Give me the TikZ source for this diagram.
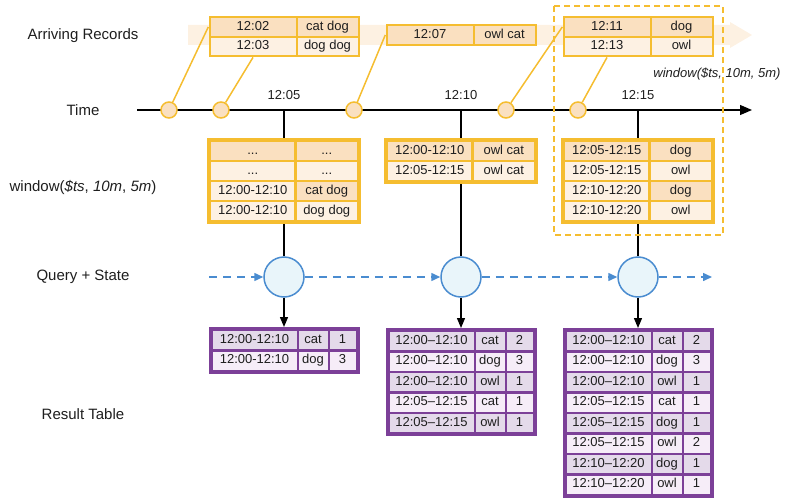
\documentclass[tikz,border=0pt]{standalone}
\usepackage{fontspec}
\setmainfont{Liberation Sans}
\usetikzlibrary{matrix,arrows.meta}
\definecolor{ob}{RGB}{245,189,48}
\definecolor{odk}{RGB}{250,224,192}
\definecolor{olt}{RGB}{253,241,227}
\definecolor{bandc}{RGB}{253,241,226}
\definecolor{pb}{RGB}{124,64,152}
\definecolor{pdk}{RGB}{228,218,234}
\definecolor{plt}{RGB}{246,237,248}
\definecolor{bb}{RGB}{74,140,208}
\definecolor{bf}{RGB}{233,245,250}
\definecolor{txt}{RGB}{30,30,30}
\tikzset{
 tfont/.style={font=\fontsize{13}{15}\selectfont, text=txt},
 lbl/.style={font=\fontsize{15}{18}\selectfont, text=txt},
 cellbase/.style={inner sep=0pt, anchor=center, text height=9.5pt, text depth=3pt, tfont},
 dk/.style={fill=odk}, lt/.style={fill=olt},
 pd/.style={fill=pdk}, pl/.style={fill=plt},
 arrtab/.style={matrix of nodes, fill=ob, inner sep=2pt, column sep=2pt, row sep=2pt,
   nodes={cellbase, minimum height=17.5pt},
   column 1/.style={nodes={minimum width=85pt}},
   column 2/.style={nodes={minimum width=60pt}}},
 wintab/.style={matrix of nodes, fill=ob, inner sep=4pt, column sep=2.5pt, row sep=2.5pt,
   nodes={cellbase, minimum height=17.5pt},
   column 1/.style={nodes={minimum width=83pt}},
   column 2/.style={nodes={minimum width=60pt}}},
 restab/.style={matrix of nodes, fill=pb, inner sep=4pt, column sep=2pt, row sep=2.5pt,
   nodes={cellbase, minimum height=18pt},
   column 1/.style={nodes={minimum width=84pt}},
   column 2/.style={nodes={minimum width=29pt}},
   column 3/.style={nodes={minimum width=26pt}}},
 tcirc/.style={circle, draw=ob, fill=odk, line width=1.5pt, minimum size=16pt, inner sep=0pt},
 qcirc/.style={circle, draw=bb, fill=bf, line width=1.5pt, minimum size=40pt, inner sep=0pt},
 feed/.style={draw=ob, line width=1.5pt},
 flowarr/.style={draw=bb, line width=1.5pt, dash pattern=on 8pt off 6pt, -{Triangle[length=9pt,width=8pt]}},
 downarr/.style={draw=black, line width=1.3pt, -{Triangle[length=10pt,width=8pt]}},
 vline/.style={draw=black, line width=1.3pt},
}
\begin{document}
\begin{tikzpicture}[x=1pt,y=-1pt]
\useasboundingbox (0,0) rectangle (787,503);
% band
\fill[bandc] (188,25) -- (730,25) -- (730,22) -- (752,35) -- (730,48) -- (730,45) -- (188,45) -- cycle;
% left labels
\node[lbl] (L1) at (83,36) {Arriving Records};
\node[lbl] (L2) at (83,110) {Time};
\node[lbl] (L3) at (83,187) {window(\textit{\$ts}, \textit{10m}, \textit{5m})};
\node[lbl] (L4) at (83,277) {Query + State};
\node[lbl] (L5) at (83,414) {Result Table};
% timeline
\coordinate (ts) at (137,110);
\coordinate (te) at (752,110);
\draw[line width=1.3pt, -{Triangle[length=12pt,width=10pt]}] (ts) -- (te);
\coordinate (k1) at (284,110);
\coordinate (k2) at (461,110);
\coordinate (k3) at (638,110);
\node[tfont] (l1) at (284,95) {12:05};
\node[tfont] (l2) at (461,95) {12:10};
\node[tfont] (l3) at (638,95) {12:15};
% query circles and vertical lines
\node[qcirc] (q1) at (284,277) {};
\node[qcirc] (q2) at (461,277) {};
\node[qcirc] (q3) at (638,277) {};
\draw[vline] (k1) -- (q1);
\draw[vline] (k2) -- (q2);
\draw[vline] (k3) -- (q3);
% dashed window box
\draw[ob, line width=1.5pt, dash pattern=on 6pt off 4pt] (554,6) rectangle (723,235);
\node[tfont] (wl) at (717,74) {\itshape window(\$ts, 10m, 5m)};
% arriving tables
\matrix (t1) [arrtab, anchor=north] at (284,16) {
 |[dk]| 12:02 & |[dk]| cat dog \\
 |[lt]| 12:03 & |[lt]| dog dog \\
};
\matrix (t2) [arrtab, anchor=north] at (461,24) {
 |[dk]| 12:07 & |[dk]| owl cat \\
};
\matrix (t3) [arrtab, anchor=north] at (638,16) {
 |[dk]| 12:11 & |[dk]| dog \\
 |[lt]| 12:13 & |[lt]| owl \\
};
% time circles
\node[tcirc] (a1) at (169,110) {};
\node[tcirc] (a2) at (221,110) {};
\node[tcirc] (a3) at (354,110) {};
\node[tcirc] (a4) at (506,110) {};
\node[tcirc] (a5) at (578,110) {};
\draw[feed] (a1) -- (t1.west |- t1-1-1);
\draw[feed] (a2) -- (t1-2-1 |- t1.south);
\draw[feed] (a3) -- (t2.west);
\draw[feed] (a4) -- (t3.west |- t3-1-1);
\draw[feed] (a5) -- (t3-2-1 |- t3.south);
% window tables
\matrix (w1) [wintab, anchor=north] at (284,138) {
 |[dk]| ... & |[dk]| ... \\
 |[lt]| ... & |[lt]| ... \\
 |[lt]| 12:00-12:10 & |[dk]| cat dog \\
 |[lt]| 12:00-12:10 & |[lt]| dog dog \\
};
\matrix (w2) [wintab, anchor=north] at (461,138) {
 |[dk]| 12:00-12:10 & |[dk]| owl cat \\
 |[lt]| 12:05-12:15 & |[lt]| owl cat \\
};
\matrix (w3) [wintab, anchor=north] at (638,138) {
 |[dk]| 12:05-12:15 & |[dk]| dog \\
 |[lt]| 12:05-12:15 & |[lt]| owl \\
 |[lt]| 12:10-12:20 & |[dk]| dog \\
 |[lt]| 12:10-12:20 & |[lt]| owl \\
};
% flows
\coordinate (fs) at (209,277);
\coordinate (fe) at (712,277);
\draw[flowarr] (fs) -- (q1);
\draw[flowarr] (q1) -- (q2);
\draw[flowarr] (q2) -- (q3);
\draw[flowarr] (q3) -- (fe);
% result tables
\matrix (r1) [restab, anchor=north] at (284,327) {
 |[pd]| 12:00-12:10 & |[pd]| cat & |[pd]| 1 \\
 |[pl]| 12:00-12:10 & |[pl]| dog & |[pl]| 3 \\
};
\matrix (r2) [restab, anchor=north] at (461,328) {
 |[pd]| 12:00–12:10 & |[pd]| cat & |[pd]| 2 \\
 |[pl]| 12:00–12:10 & |[pl]| dog & |[pl]| 3 \\
 |[pd]| 12:00–12:10 & |[pd]| owl & |[pd]| 1 \\
 |[pl]| 12:05–12:15 & |[pl]| cat & |[pl]| 1 \\
 |[pd]| 12:05–12:15 & |[pd]| owl & |[pd]| 1 \\
};
\matrix (r3) [restab, anchor=north] at (638,328) {
 |[pd]| 12:00–12:10 & |[pd]| cat & |[pd]| 2 \\
 |[pl]| 12:00–12:10 & |[pl]| dog & |[pl]| 3 \\
 |[pd]| 12:00–12:10 & |[pd]| owl & |[pd]| 1 \\
 |[pl]| 12:05–12:15 & |[pl]| cat & |[pl]| 1 \\
 |[pd]| 12:05–12:15 & |[pd]| dog & |[pd]| 1 \\
 |[pl]| 12:05–12:15 & |[pl]| owl & |[pl]| 2 \\
 |[pd]| 12:10–12:20 & |[pd]| dog & |[pd]| 1 \\
 |[pl]| 12:10–12:20 & |[pl]| owl & |[pl]| 1 \\
};
\draw[downarr] (q1) -- (q1 |- r1.north);
\draw[downarr] (q2) -- (q2 |- r2.north);
\draw[downarr] (q3) -- (q3 |- r3.north);
\end{tikzpicture}
\end{document}
